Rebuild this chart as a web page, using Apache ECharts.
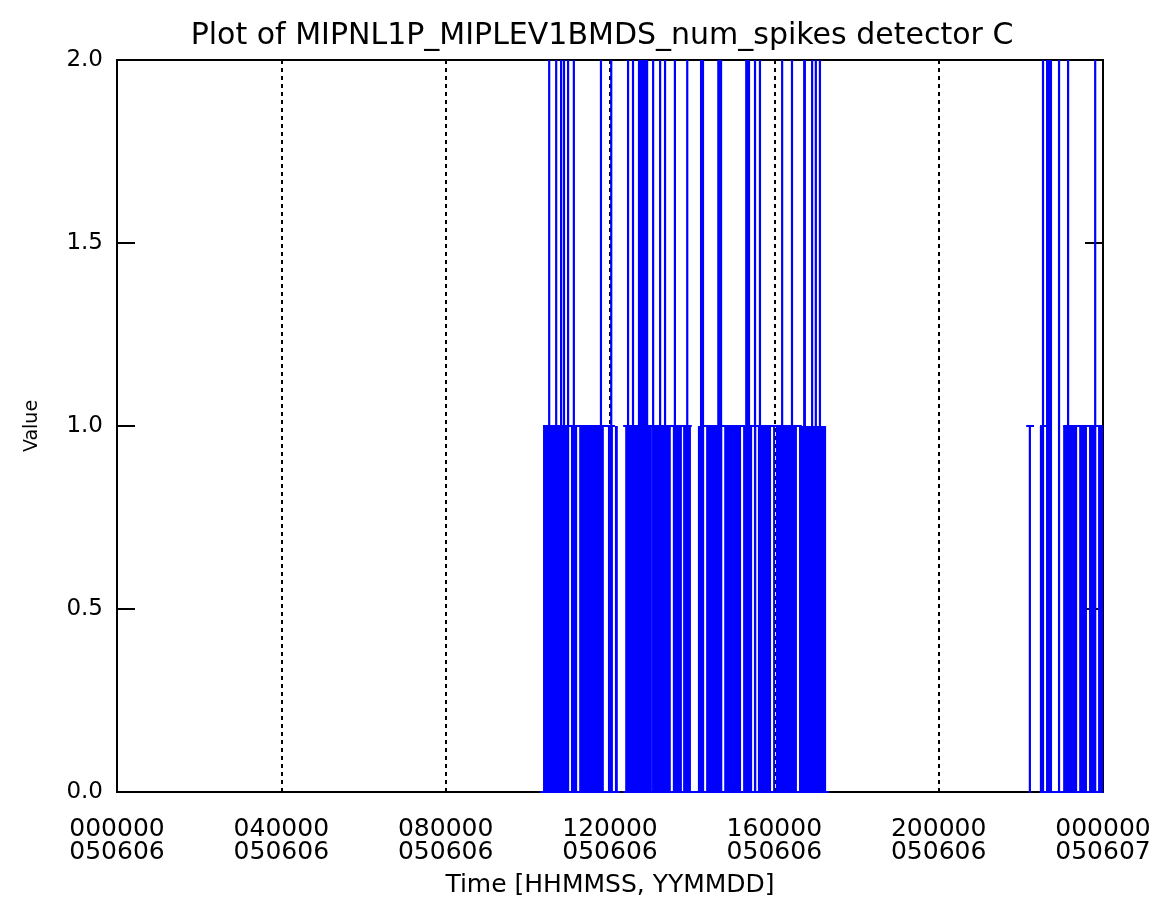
<!DOCTYPE html>
<html>
<head>
<meta charset="utf-8">
<script src="https://cdn.jsdelivr.net/npm/echarts@6/dist/echarts.min.js"></script>
<style>
  html, body { margin: 0; padding: 0; background: #fff; }
  #main-chart { width: 1160px; height: 907px; }
</style>
</head>
<body>
<div id="main-chart"></div>
<script>
// time in hours since 000000 050606
const xTicks = [0, 4, 8, 12, 16, 20, 24];
const yTicks = [0, 0.5, 1, 1.5, 2];

// stretches where the count flips 0 <-> 1 so densely it reads as solid
const fillSpans = [
  [10.37, 11.00], [11.05, 11.20], [11.25, 11.85], [11.95, 12.07], [12.12, 12.19],
  [12.37, 13.02], [13.07, 13.48], [13.53, 13.75], [13.78, 13.97], [14.14, 14.29],
  [14.34, 14.73], [14.78, 15.19], [15.24, 15.46], [15.51, 15.55], [15.60, 15.92],
  [15.97, 15.99], [16.04, 16.55], [16.60, 17.26],
  [23.03, 23.37], [23.42, 23.61], [23.66, 23.83], [23.88, 24.00]
];

// single samples reaching 2
const spikes2 = [
  10.52, 10.69, 10.81, 10.88, 10.98, 11.12, 11.78, 12.03, 12.44, 12.56,
  13.05, 13.22, 13.34, 13.58, 13.88, 15.53, 15.65, 16.19, 16.43, 16.92,
  17.01, 17.11, 22.54, 22.64, 22.93, 23.15, 23.81
];

// dense runs reaching 2
const spans2 = [
  [12.68, 12.93], [14.19, 14.29], [14.61, 14.73], [15.29, 15.41], [16.70, 16.77], [22.66, 22.76]
];

// isolated samples at 1
const spikes1 = [22.22, 22.49];

// runs of consecutive 1s (flat line at 1.0)
const caps1 = [
  [10.37, 12.12], [12.32, 13.99], [14.26, 15.29], [15.36, 16.67],
  [22.13, 22.32], [22.47, 22.66], [23.03, 24.00]
];

// runs of consecutive 0s drawn over the axis
const base0 = [[10.30, 12.24], [12.32, 17.33], [22.20, 22.25], [22.47, 24.00]];

const blue = '#0000ff';
const fontName = 'DejaVu Sans';

function pad2(n) {
  return String(n % 24).padStart(2, '0');
}

function rectItem(y0, y1) {
  return (params, api) => {
    const a = api.coord([api.value(0), y1]);
    const b = api.coord([api.value(1), y0]);
    return {
      type: 'rect',
      shape: { x: a[0], y: a[1], width: Math.max(b[0] - a[0], 2), height: b[1] - a[1] },
      style: { fill: blue }
    };
  };
}

function vLineItem(y0, y1) {
  return (params, api) => {
    const a = api.coord([api.value(0), y0]);
    const b = api.coord([api.value(0), y1]);
    return {
      type: 'line',
      shape: { x1: a[0], y1: a[1], x2: b[0], y2: b[1] },
      style: { stroke: blue, lineWidth: 2.2 }
    };
  };
}

function hLineItem(y) {
  return (params, api) => {
    const a = api.coord([api.value(0), y]);
    const b = api.coord([api.value(1), y]);
    return {
      type: 'line',
      shape: { x1: a[0], y1: a[1], x2: b[0], y2: b[1] },
      style: { stroke: blue, lineWidth: 2 }
    };
  };
}

const chart = echarts.init(document.getElementById('main-chart'));

const yTickStyle = {
  show: true,
  inside: true,
  length: 18,
  lineStyle: { color: '#000', width: 2 }
};

chart.setOption({
  animation: false,
  backgroundColor: '#fff',
  title: {
    text: 'Plot of MIPNL1P_MIPLEV1BMDS_num_spikes detector C',
    left: 597,
    top: 16,
    textAlign: 'center',
    textStyle: { fontFamily: fontName, fontSize: 30, fontWeight: 'normal', color: '#000' }
  },
  grid: {
    left: 117, right: 57, top: 60, bottom: 115,
    show: true, borderColor: '#000', borderWidth: 2
  },
  xAxis: {
    type: 'value',
    min: xTicks[0],
    max: xTicks[xTicks.length - 1],
    interval: 4,
    name: 'Time [HHMMSS, YYMMDD]',
    nameLocation: 'middle',
    nameGap: 81,
    nameTextStyle: { fontFamily: fontName, fontSize: 25, color: '#000' },
    axisLine: { show: true, lineStyle: { color: '#000', width: 2 } },
    axisTick: { show: false },
    axisLabel: {
      margin: 26,
      fontFamily: fontName,
      fontSize: 25,
      lineHeight: 23,
      color: '#000',
      formatter: v => pad2(v) + '0000\n' + (v >= 24 ? '050607' : '050606')
    },
    splitLine: {
      show: true,
      showMinLine: false,
      showMaxLine: false,
      lineStyle: { color: '#000', width: 2, type: [4, 4] }
    }
  },
  yAxis: [
    {
      type: 'value',
      min: yTicks[0],
      max: yTicks[yTicks.length - 1],
      interval: 0.5,
      name: 'Value',
      nameLocation: 'middle',
      nameGap: 75,
      nameTextStyle: { fontFamily: fontName, fontSize: 19, color: '#000' },
      axisLine: { show: true, lineStyle: { color: '#000', width: 2 } },
      axisTick: yTickStyle,
      axisLabel: {
        margin: 14,
        fontFamily: fontName,
        fontSize: 23,
        color: '#000',
        formatter: v => v.toFixed(1)
      },
      splitLine: { show: false }
    },
    {
      type: 'value',
      position: 'right',
      min: yTicks[0],
      max: yTicks[yTicks.length - 1],
      interval: 0.5,
      axisLine: { show: true, lineStyle: { color: '#000', width: 2 } },
      axisTick: yTickStyle,
      axisLabel: { show: false },
      splitLine: { show: false }
    }
  ],
  series: [
    { type: 'custom', name: 'fill', data: fillSpans.map(d => d.slice()), renderItem: rectItem(0, 1), z: 2 },
    { type: 'custom', name: 'runs2', data: spans2.map(d => d.slice()), renderItem: rectItem(0, 2), z: 3 },
    { type: 'custom', name: 'spikes2', data: spikes2.map(t => [t]), renderItem: vLineItem(0, 2), z: 3 },
    { type: 'custom', name: 'spikes1', data: spikes1.map(t => [t]), renderItem: vLineItem(0, 1), z: 3 },
    { type: 'custom', name: 'ones', data: caps1.map(d => d.slice()), renderItem: hLineItem(1), z: 4 },
    { type: 'custom', name: 'zeros', data: base0.map(d => d.slice()), renderItem: hLineItem(0), z: 4 }
  ]
});
</script>
</body>
</html>
